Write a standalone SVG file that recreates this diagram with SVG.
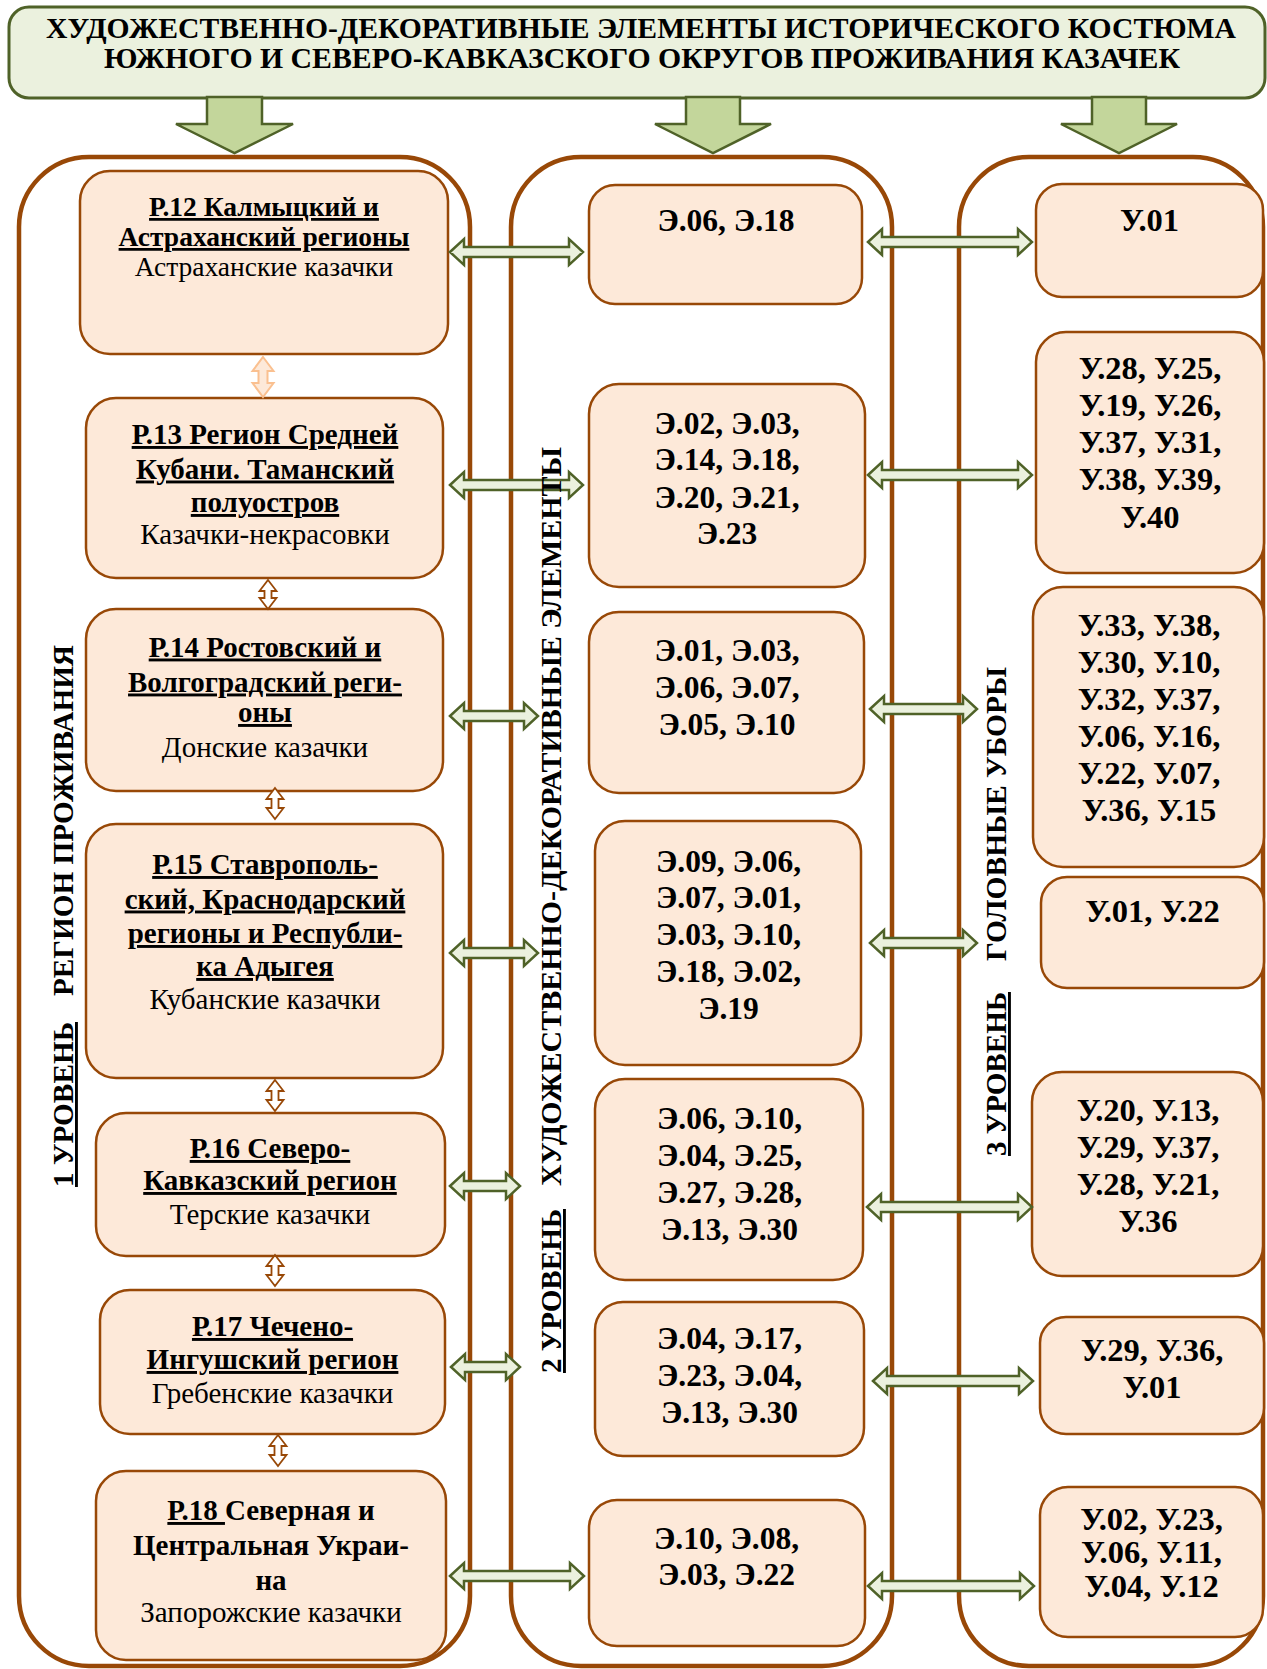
<svg xmlns="http://www.w3.org/2000/svg" width="1267" height="1669" viewBox="0 0 1267 1669">
<style>
.col{fill:none;stroke:#984807;stroke-width:4.5}
.box{fill:#FDE9D9;stroke:#984807;stroke-width:2.5}
.ha{fill:#EBF1DE;stroke:#4F6228;stroke-width:2.5;stroke-linejoin:miter}
.va{fill:#FFFFFF;stroke:#984807;stroke-width:1.8}
.va1{fill:#FDE9D9;stroke:#FAC090;stroke-width:2}
.da{fill:#C3D69B;stroke:#4F6228;stroke-width:2.5}
text{font-family:"Liberation Serif","Times New Roman",serif;fill:#000}
.ti{font-size:30px;font-weight:bold;text-anchor:middle}
.h{font-size:29px;font-weight:bold;text-anchor:middle;text-decoration:underline}
.hb{font-size:29px;font-weight:bold;text-anchor:middle}
.r{font-size:29px;text-anchor:middle}
.n{font-size:31.5px;font-weight:bold;text-anchor:middle}
.m{font-size:32.5px;font-weight:bold;text-anchor:middle}
.v{font-size:29px;font-weight:bold}
.u{text-decoration:underline}
</style>

<g id="title">
<rect x="9" y="7" width="1256" height="91" rx="20" fill="#EBF1DE" stroke="#4F6228" stroke-width="3"/>
<text class="ti" x="641" y="38" textLength="1190" lengthAdjust="spacingAndGlyphs">ХУДОЖЕСТВЕННО-ДЕКОРАТИВНЫЕ ЭЛЕМЕНТЫ ИСТОРИЧЕСКОГО КОСТЮМА</text>
<text class="ti" x="642" y="68" textLength="1076" lengthAdjust="spacingAndGlyphs">ЮЖНОГО И СЕВЕРО-КАВКАЗСКОГО ОКРУГОВ ПРОЖИВАНИЯ КАЗАЧЕК</text>
</g>

<g id="down-arrows">
<path class="da" d="M207,97 V124 H176 L234.5,153 L293,124 H262 V97 Z"/>
<path class="da" d="M686,97 V124 H655 L713,153 L771,124 H740 V97 Z"/>
<path class="da" d="M1092,97 V124 H1061 L1119,153 L1177,124 H1146 V97 Z"/>
</g>

<g id="col1"><rect class="col" x="19" y="157" width="451" height="1509" rx="70"/></g>
<g id="col2"><rect class="col" x="511" y="157" width="381" height="1509" rx="70"/></g>
<g id="col3"><rect class="col" x="959" y="157" width="304" height="1509" rx="70"/></g>

<g id="p12">
<rect class="box" x="80" y="171" width="368" height="183" rx="30"/>
<text class="h" x="264" y="216" style="font-size:27.5px">Р.12 Калмыцкий и</text>
<text class="h" x="264" y="246" style="font-size:27.5px">Астраханский регионы</text>
<text class="r" x="264" y="276" style="font-size:27.5px">Астраханские казачки</text>
</g>
<g id="p13">
<rect class="box" x="86" y="398" width="357" height="180" rx="30"/>
<text class="h" x="265" y="444">Р.13 Регион Средней</text>
<text class="h" x="265" y="478.5">Кубани. Таманский</text>
<text class="h" x="265" y="512">полуостров</text>
<text class="r" x="265" y="544">Казачки-некрасовки</text>
</g>
<g id="p14">
<rect class="box" x="86" y="609" width="357" height="182" rx="30"/>
<text class="h" x="265" y="656.5">Р.14 Ростовский и</text>
<text class="h" x="265" y="691.5">Волгоградский реги-</text>
<text class="h" x="265" y="722">оны</text>
<text class="r" x="265" y="756.5">Донские казачки</text>
</g>
<g id="p15">
<rect class="box" x="86" y="824" width="357" height="254" rx="30"/>
<text class="h" x="265" y="874">Р.15 Ставрополь-</text>
<text class="h" x="265" y="908.5">ский, Краснодарский</text>
<text class="h" x="265" y="943">регионы и Республи-</text>
<text class="h" x="265" y="976">ка Адыгея</text>
<text class="r" x="265" y="1008.5">Кубанские казачки</text>
</g>
<g id="p16">
<rect class="box" x="96" y="1113" width="349" height="143" rx="30"/>
<text class="h" x="270" y="1158">Р.16 Северо-</text>
<text class="h" x="270" y="1190">Кавказский регион</text>
<text class="r" x="270" y="1224">Терские казачки</text>
</g>
<g id="p17">
<rect class="box" x="100" y="1290" width="345" height="144" rx="30"/>
<text class="h" x="272.5" y="1336">Р.17 Чечено-</text>
<text class="h" x="272.5" y="1369">Ингушский регион</text>
<text class="r" x="272.5" y="1402.5">Гребенские казачки</text>
</g>
<g id="p18">
<rect class="box" x="96" y="1471" width="350" height="189" rx="30"/>
<text class="hb" x="271" y="1520"><tspan class="u">Р.18 </tspan><tspan>Северная и</tspan></text>
<text class="hb" x="271" y="1555">Центральная Украи-</text>
<text class="hb" x="271" y="1590">на</text>
<text class="r" x="271" y="1622">Запорожские казачки</text>
</g>

<g id="e1">
<rect class="box" x="589" y="185" width="273" height="119" rx="26"/>
<text class="n" x="726" y="231">Э.06, Э.18</text>
</g>
<g id="e2">
<rect class="box" x="589" y="384" width="276" height="203" rx="30"/>
<text class="n" x="727" y="433.5">Э.02, Э.03,</text>
<text class="n" x="727" y="470.3">Э.14, Э.18,</text>
<text class="n" x="727" y="507.5">Э.20, Э.21,</text>
<text class="n" x="727" y="543.5">Э.23</text>
</g>
<g id="e3">
<rect class="box" x="589" y="612" width="275" height="181" rx="30"/>
<text class="n" x="727" y="661">Э.01, Э.03,</text>
<text class="n" x="727" y="697.5">Э.06, Э.07,</text>
<text class="n" x="727" y="734.5">Э.05, Э.10</text>
</g>
<g id="e4">
<rect class="box" x="595" y="821" width="266" height="244" rx="30"/>
<text class="n" x="728.5" y="871.5">Э.09, Э.06,</text>
<text class="n" x="728.5" y="908">Э.07, Э.01,</text>
<text class="n" x="728.5" y="945">Э.03, Э.10,</text>
<text class="n" x="728.5" y="982">Э.18, Э.02,</text>
<text class="n" x="728.5" y="1019">Э.19</text>
</g>
<g id="e5">
<rect class="box" x="595" y="1079" width="268" height="201" rx="30"/>
<text class="n" x="729.5" y="1128.7">Э.06, Э.10,</text>
<text class="n" x="729.5" y="1165.7">Э.04, Э.25,</text>
<text class="n" x="729.5" y="1202.5">Э.27, Э.28,</text>
<text class="n" x="729.5" y="1239.8">Э.13, Э.30</text>
</g>
<g id="e6">
<rect class="box" x="595" y="1302" width="269" height="154" rx="28"/>
<text class="n" x="729.5" y="1349">Э.04, Э.17,</text>
<text class="n" x="729.5" y="1386">Э.23, Э.04,</text>
<text class="n" x="729.5" y="1423">Э.13, Э.30</text>
</g>
<g id="e7">
<rect class="box" x="589" y="1500" width="276" height="146" rx="28"/>
<text class="n" x="726.5" y="1548.5">Э.10, Э.08,</text>
<text class="n" x="726.5" y="1584.5">Э.03, Э.22</text>
</g>

<g id="u1">
<rect class="box" x="1036" y="184" width="227" height="113" rx="26"/>
<text class="m" x="1149.5" y="230.5">У.01</text>
</g>
<g id="u2">
<rect class="box" x="1036" y="332" width="228" height="241" rx="30"/>
<text class="m" x="1150" y="379">У.28, У.25,</text>
<text class="m" x="1150" y="416">У.19, У.26,</text>
<text class="m" x="1150" y="453">У.37, У.31,</text>
<text class="m" x="1150" y="490">У.38, У.39,</text>
<text class="m" x="1150" y="528">У.40</text>
</g>
<g id="u3">
<rect class="box" x="1033" y="587" width="231" height="280" rx="30"/>
<text class="m" x="1149" y="636">У.33, У.38,</text>
<text class="m" x="1149" y="673">У.30, У.10,</text>
<text class="m" x="1149" y="709.5">У.32, У.37,</text>
<text class="m" x="1149" y="746.5">У.06, У.16,</text>
<text class="m" x="1149" y="783.5">У.22, У.07,</text>
<text class="m" x="1149" y="820.5">У.36, У.15</text>
</g>
<g id="u4">
<rect class="box" x="1041" y="877" width="223" height="111" rx="26"/>
<text class="m" x="1152.5" y="922">У.01, У.22</text>
</g>
<g id="u5">
<rect class="box" x="1032" y="1072" width="231" height="204" rx="30"/>
<text class="m" x="1148" y="1121">У.20, У.13,</text>
<text class="m" x="1148" y="1158">У.29, У.37,</text>
<text class="m" x="1148" y="1194.5">У.28, У.21,</text>
<text class="m" x="1148" y="1231.5">У.36</text>
</g>
<g id="u6">
<rect class="box" x="1040" y="1317" width="224" height="117" rx="26"/>
<text class="m" x="1152" y="1360.5">У.29, У.36,</text>
<text class="m" x="1152" y="1398">У.01</text>
</g>
<g id="u7">
<rect class="box" x="1040" y="1487" width="223" height="150" rx="28"/>
<text class="m" x="1151.5" y="1529.5">У.02, У.23,</text>
<text class="m" x="1151.5" y="1563">У.06, У.11,</text>
<text class="m" x="1151.5" y="1597">У.04, У.12</text>
</g>

<g id="connectors">
<path class="ha" d="M450,252 L464,239 V247 H569 V239 L583,252 L569,265 V257 H464 V265 Z"/>
<path class="ha" d="M450,485 L464,472 V480 H569 V472 L583,485 L569,498 V490 H464 V498 Z"/>
<path class="ha" d="M450,716 L464,703 V711 H524 V703 L538,716 L524,729 V721 H464 V729 Z"/>
<path class="ha" d="M450,953 L464,940 V948 H524 V940 L538,953 L524,966 V958 H464 V966 Z"/>
<path class="ha" d="M450,1186 L464,1173 V1181 H506 V1173 L520,1186 L506,1199 V1191 H464 V1199 Z"/>
<path class="ha" d="M451,1367 L465,1354 V1362 H506 V1354 L520,1367 L506,1380 V1372 H465 V1380 Z"/>
<path class="ha" d="M450,1576 L464,1563 V1571 H570 V1563 L584,1576 L570,1589 V1581 H464 V1589 Z"/>
<path class="ha" d="M868,242 L882,229 V237 H1018 V229 L1032,242 L1018,255 V247 H882 V255 Z"/>
<path class="ha" d="M868,475 L882,462 V470 H1018 V462 L1032,475 L1018,488 V480 H882 V488 Z"/>
<path class="ha" d="M870,709 L884,696 V704 H963 V696 L977,709 L963,722 V714 H884 V722 Z"/>
<path class="ha" d="M870,943 L884,930 V938 H963 V930 L977,943 L963,956 V948 H884 V956 Z"/>
<path class="ha" d="M867,1207 L881,1194 V1202 H1018 V1194 L1032,1207 L1018,1220 V1212 H881 V1220 Z"/>
<path class="ha" d="M873,1381 L887,1368 V1376 H1019 V1368 L1033,1381 L1019,1394 V1386 H887 V1394 Z"/>
<path class="ha" d="M868,1586 L882,1573 V1581 H1020 V1573 L1034,1586 L1020,1599 V1591 H882 V1599 Z"/>
<path class="va1" d="M263,357 L273.5,371 H267.5 V383 H273.5 L263,397 L252.5,383 H258.5 V371 H252.5 Z"/>
<path class="va" d="M268,580 L276.5,591 H271.5 V598 H276.5 L268,609 L259.5,598 H264.5 V591 H259.5 Z"/>
<path class="va" d="M275,788 L283.5,799 H278.5 V808 H283.5 L275,819 L266.5,808 H271.5 V799 H266.5 Z"/>
<path class="va" d="M275,1080 L283.5,1091 H278.5 V1100 H283.5 L275,1111 L266.5,1100 H271.5 V1091 H266.5 Z"/>
<path class="va" d="M275,1255 L283.5,1266 H278.5 V1275 H283.5 L275,1286 L266.5,1275 H271.5 V1266 H266.5 Z"/>
<path class="va" d="M278,1435 L286.5,1446 H281.5 V1455 H286.5 L278,1466 L269.5,1455 H274.5 V1446 H269.5 Z"/>
</g>

<g id="level-labels">
<text class="v u" transform="translate(73,1187) rotate(-90)" textLength="165" lengthAdjust="spacingAndGlyphs">1 УРОВЕНЬ</text>
<text class="v" transform="translate(73,996) rotate(-90)" textLength="351" lengthAdjust="spacingAndGlyphs">РЕГИОН ПРОЖИВАНИЯ</text>
<text class="v u" transform="translate(561,1373) rotate(-90)" textLength="164" lengthAdjust="spacingAndGlyphs">2 УРОВЕНЬ</text>
<text class="v" transform="translate(561,1186) rotate(-90)" textLength="739" lengthAdjust="spacingAndGlyphs">ХУДОЖЕСТВЕННО-ДЕКОРАТИВНЫЕ ЭЛЕМЕНТЫ</text>
<text class="v u" transform="translate(1006,1156) rotate(-90)" textLength="164" lengthAdjust="spacingAndGlyphs">3 УРОВЕНЬ</text>
<text class="v" transform="translate(1006,961) rotate(-90)" textLength="294" lengthAdjust="spacingAndGlyphs">ГОЛОВНЫЕ УБОРЫ</text>
</g>
</svg>
